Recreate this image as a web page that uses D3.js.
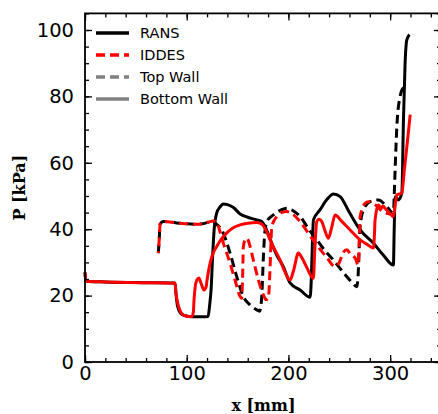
<!DOCTYPE html>
<html>
<head>
<meta charset="utf-8">
<script src="https://cdn.jsdelivr.net/npm/d3@7"></script>
<style>
  html, body { margin: 0; padding: 0; background: #fff; }
  svg { display: block; }
</style>
</head>
<body>
<svg id="chart" width="438" height="414"></svg>
<script>
// Wall pressure along the channel, x [mm] vs P [kPa]
const xTicks = [0, 100, 200, 300];
const yTicks = [0, 20, 40, 60, 80, 100];

// RANS, bottom wall
const ransBottom = [
  [0,27],[0.8,24.3],[20,24.1],[60,23.9],[88.5,23.8],[89.5,20.5],[91,16.8],[94,14.7],[98,14],
  [105,13.6],[115,13.6],[121,13.7],[122.5,17],[124,22],[125.5,32],[127,40],[129.5,44.9],
  [132.8,46.7],[136,47.6],[140,47.4],[145.6,46.6],[152.5,44.6],[160,43.6],[168.9,42.8],
  [173.8,42.3],[177,40.8],[182,37],[188,32.5],[195,28.7],[201.6,23.8],[211.5,21.7],
  [221.3,19.5],[222.5,25],[223.5,35],[224.6,42.8],[231,45.8],[238,49],[244.2,50.6],
  [250.8,49.8],[260,45],[270.5,39.8],[283.6,35.8],[293,32.3],[303.2,29.2],[304,40],
  [304.9,49.8],[308.2,48.8],[311.5,50.9],[313.1,73],[314.7,90],[316.4,97],[319,98.6]
];

// RANS, top wall
const ransTop = [
  [72.1,32.8],[73,37],[73.8,41.5],[77,42.3],[90,41.9],[110,41.5],[120,42],[124,42.5],
  [126.2,42.3],[130,41.3],[134.4,39.8],[142.6,32.8],[149.2,25.7],[155.7,19.7],[162.3,17.2],
  [168.9,15.7],[171.5,15.3],[173,17],[173.8,20],[175.4,31.7],[176.5,38],[178.7,42.3],
  [185.2,44.3],[191,45.5],[198.4,46.3],[205,45.5],[211.5,43.8],[220,40],[227.9,36.8],
  [236,33.5],[244.2,30.7],[250,28.5],[257.4,25.7],[263,23.8],[267.2,22.7],[268.5,26],
  [269.5,34],[270.5,40.8],[273.7,45.8],[280.3,48.3],[288.5,48.8],[296.7,46.8],[303.2,44.8],
  [304,50],[304.9,57.9],[306.6,70.9],[309.8,80],[313.1,82.5],[316.4,81.5]
];

// IDDES, top wall
const iddesTop = [
  [72.1,32.8],[73,37],[73.8,41.5],[77,42.3],[90,41.9],[110,41.5],[120,42],[126,42.5],
  [129.5,42.3],[132,40],[136,35.8],[142.6,29.8],[147.5,24.7],[152.5,19.7],[154.1,19.2],
  [154.9,25],[155.7,34.8],[157.4,36.8],[159,37.3],[162.3,34.8],[165.5,30.7],[170.5,24.7],
  [175.4,20.2],[178,18.8],[180.3,19.2],[181.5,25],[182.5,33],[183.6,40.8],[188.5,43.8],
  [193,45],[198.4,45.3],[205,44.3],[211.5,42.3],[218,39.5],[224.6,36.6],[231,34],
  [237.7,31.5],[245.9,28.7],[250,30],[254,33],[257.4,33.8],[261,32.5],[265.6,31.3],
  [268.8,29.2],[269.5,35],[270.5,43.8],[275.4,47.8],[278.7,48.3],[285,47.5],[290,46],
  [296.7,44.8],[301,44.5],[304,43.5],[306.6,43.8]
];

// IDDES, bottom wall
const iddesBottom = [
  [0,27],[0.8,24.3],[20,24.1],[60,23.9],[88.5,23.7],[89.5,20.5],[90.5,18.7],[93,15.8],
  [96.4,14.2],[100,13.8],[105,13.7],[106.5,15],[107.2,18.7],[108.5,23],[110,24.7],
  [112,25.3],[114,23.8],[117,21.7],[119,22.5],[120,24.7],[123,29.8],[126,32.8],[129.5,34.8],
  [134,37],[139.4,38.9],[145,40.3],[152.5,41.3],[160,41.8],[169,42],[172,41.8],[175.4,41],
  [179,39],[182,36.8],[186,34.2],[191.8,30.7],[196,27.5],[201.6,24.7],[205,27.5],
  [209.8,32.8],[213,31.5],[218,28.5],[222,26],[224.6,25.2],[225.8,33],[227.9,42.3],
  [230,43],[232.8,42.3],[236,39.5],[239.3,37.3],[242.5,40.5],[245.9,44.3],[252,42.5],
  [260,40],[270.5,36.8],[277,35.5],[283.6,34.3],[284.5,38],[285.2,42.8],[288.5,47.3],
  [291,46.3],[293,47],[295,46.3],[299,45],[303.2,43.8],[304.8,47],[306.6,50.3],[311.5,50.9],
  [314,58],[317,66.5],[319.7,74.5]
];

const legendItems = [
  { label: "RANS", color: "#000000", dash: null },
  { label: "IDDES", color: "#ff0000", dash: "9,5" },
  { label: "Top Wall", color: "#808080", dash: "9,5" },
  { label: "Bottom Wall", color: "#808080", dash: null }
];

const svg = d3.select("#chart");
const pLeft = 85, pRight = 441, pTop = 13.4, pBottom = 362;

const x = d3.scaleLinear().domain([0, 350]).range([pLeft, pRight]);
const y = d3.scaleLinear().domain([0, 105]).range([pBottom, pTop]);

svg.append("rect").attr("width", 438).attr("height", 414).attr("fill", "#fff");

// Curves
const line = d3.line()
  .x(d => x(d[0]))
  .y(d => y(d[1]))
  .curve(d3.curveMonotoneX);

const plot = svg.append("g");
function drawSeries(data, color, dash, offset) {
  const p = plot.append("path")
    .datum(data)
    .attr("d", line)
    .attr("fill", "none")
    .attr("stroke", color)
    .attr("stroke-width", 3)
    .attr("stroke-linejoin", "round");
  if (dash) p.attr("stroke-dasharray", dash).attr("stroke-dashoffset", offset || 0);
}
drawSeries(ransTop, "#000", "9,5", 0);
drawSeries(ransBottom, "#000", null);
drawSeries(iddesTop, "#ff0000", "9,5", 7);
drawSeries(iddesBottom, "#ff0000", null);

// Axes with inward ticks
const tickFont = "DejaVu Sans, sans-serif";
function styleAxis(g) {
  g.select(".domain").remove();
  g.selectAll(".tick line").attr("stroke", "#000").attr("stroke-width", 1.3);
  g.selectAll("text").attr("font-family", tickFont).attr("font-size", 19.5).attr("fill", "#000");
}
const xMinor = d3.range(0, 351, 20);
const yMinor = d3.range(0, 106, 5);

svg.append("g").attr("transform", `translate(0,${pBottom})`)
  .call(d3.axisBottom(x).tickValues(xMinor).tickSize(-4).tickFormat("")).call(styleAxis);
svg.append("g").attr("transform", `translate(0,${pBottom})`)
  .call(d3.axisBottom(x).tickValues(xTicks).tickSize(-7).tickPadding(4).tickFormat(d3.format("d"))).call(styleAxis);
svg.append("g").attr("transform", `translate(0,${pTop})`)
  .call(d3.axisTop(x).tickValues(xMinor).tickSize(-4).tickFormat("")).call(styleAxis);
svg.append("g").attr("transform", `translate(0,${pTop})`)
  .call(d3.axisTop(x).tickValues(xTicks).tickSize(-7).tickFormat("")).call(styleAxis);

svg.append("g").attr("transform", `translate(${pLeft},0)`)
  .call(d3.axisLeft(y).tickValues(yMinor).tickSize(-4).tickFormat("")).call(styleAxis);
svg.append("g").attr("transform", `translate(${pLeft},0)`)
  .call(d3.axisLeft(y).tickValues(yTicks).tickSize(-7).tickPadding(11).tickFormat(d3.format("d"))).call(styleAxis);
svg.append("g").attr("transform", `translate(${pRight},0)`)
  .call(d3.axisRight(y).tickValues(yMinor).tickSize(-4).tickFormat("")).call(styleAxis);
svg.append("g").attr("transform", `translate(${pRight},0)`)
  .call(d3.axisRight(y).tickValues(yTicks).tickSize(-7).tickFormat("")).call(styleAxis);

// Frame
svg.append("rect")
  .attr("x", pLeft).attr("y", pTop)
  .attr("width", pRight - pLeft).attr("height", pBottom - pTop)
  .attr("fill", "none").attr("stroke", "#000").attr("stroke-width", 1.8);

// Axis titles
svg.append("text")
  .attr("x", (pLeft + 438) / 2 + 2).attr("y", 411)
  .attr("text-anchor", "middle")
  .attr("font-family", "DejaVu Serif, serif").attr("font-weight", "bold").attr("font-size", 16)
  .text("x [mm]");
svg.append("text")
  .attr("transform", `translate(25,${(pTop + pBottom) / 2}) rotate(-90)`)
  .attr("text-anchor", "middle")
  .attr("font-family", "DejaVu Serif, serif").attr("font-weight", "bold").attr("font-size", 16)
  .text("P [kPa]");

// Legend
const legend = svg.append("g");
legendItems.forEach((d, i) => {
  const yy = 33 + i * 22;
  const ln = legend.append("line")
    .attr("x1", 96).attr("x2", 129).attr("y1", yy).attr("y2", yy)
    .attr("stroke", d.color).attr("stroke-width", 3.3);
  if (d.dash) ln.attr("stroke-dasharray", d.dash);
  legend.append("text")
    .attr("x", 140).attr("y", yy).attr("dy", "0.36em")
    .attr("font-family", tickFont).attr("font-size", 14.5).attr("fill", "#000")
    .text(d.label);
});
</script>
</body>
</html>
